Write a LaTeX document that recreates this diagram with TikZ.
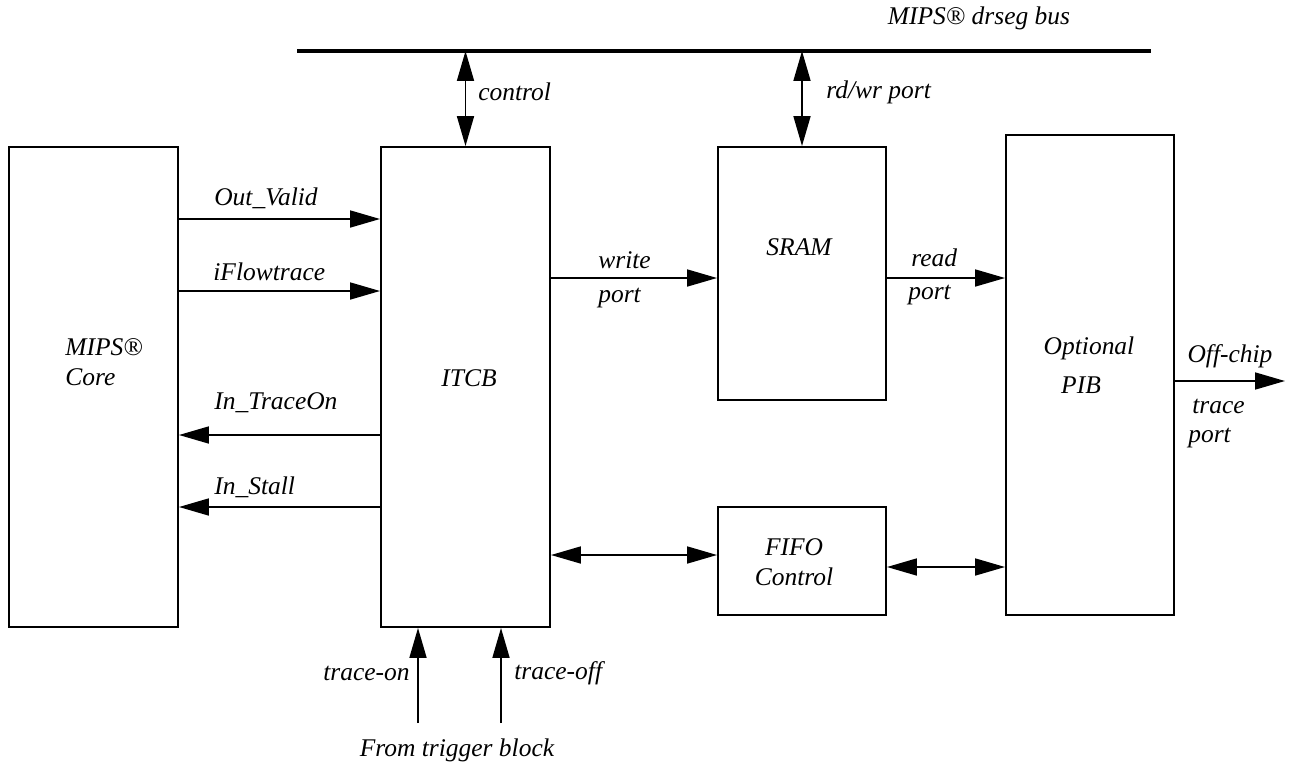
\documentclass[tikz,border=0pt]{standalone}
\usepackage{fontspec}
\setmainfont{Liberation Serif}
\usetikzlibrary{arrows.meta}
\begin{document}
\begin{tikzpicture}[x=0.02cm,y=-0.02cm,
  box/.style={draw, line width=1.1pt, inner sep=0pt},
  lbl/.style={inner sep=0pt, font=\fontsize{14.5}{17}\selectfont\itshape},
  conn/.style={line width=1.1pt, -{Triangle[length=17pt,width=9.6pt]}},
  bconn/.style={line width=1.1pt, {Triangle[length=17pt,width=9.6pt]}-{Triangle[length=17pt,width=9.6pt]}},
]
\useasboundingbox (0,0) rectangle (1292,768);

% boxes
\node[box, minimum width=3.38cm, minimum height=9.6cm] (core) at (93.5,387) {};
\node[box, minimum width=3.38cm, minimum height=9.6cm] (itcb) at (465.5,387) {};
\node[box, minimum width=3.36cm, minimum height=5.06cm] (sram) at (802,273.5) {};
\node[box, minimum width=3.36cm, minimum height=2.16cm] (fifo) at (802,561) {};
\node[box, minimum width=3.36cm, minimum height=9.6cm] (pib) at (1090,375) {};

% box texts
\node[lbl, anchor=west, align=left] (coret) at (65,362) {MIPS®\\Core};
\node[lbl] (itcbt) at (469,378) {ITCB};
\node[lbl] (sramt) at (799,247) {SRAM};
\node[lbl, align=center] (fifot) at (794,562) {FIFO\\Control};
\node[lbl] (pibt1) at (1089,348) {Optional};
\node[lbl] (pibt2) at (1081,385) {PIB};

% bus
\coordinate (busL) at (297,51);
\coordinate (busR) at (1151,51);
\draw[line width=2.3pt] (busL) -- (busR);
\node[lbl] (bust) at (979,18) {MIPS® drseg bus};

% vertical bus connectors
\draw[bconn] (itcb.north |- busL) -- (itcb.north);
\node[lbl, anchor=west] (ctrlt) at (478,92) {control};
\draw[bconn] (sram.north |- busL) -- (sram.north);
\node[lbl, anchor=west] (rdwrt) at (826,92) {rd/wr port};

% core <-> itcb
\coordinate (y1) at (0,219);
\coordinate (y2) at (0,291);
\coordinate (y3) at (0,435);
\coordinate (y4) at (0,507);
\draw[conn] (core.east |- y1) -- (itcb.west |- y1);
\draw[conn] (core.east |- y2) -- (itcb.west |- y2);
\draw[conn] (itcb.west |- y3) -- (core.east |- y3);
\draw[conn] (itcb.west |- y4) -- (core.east |- y4);
\node[lbl, anchor=west] (ovt) at (214,198) {Out\_Valid};
\node[lbl, anchor=west] (ift) at (213,272) {iFlowtrace};
\node[lbl, anchor=west] (itot) at (214,403) {In\_TraceOn};
\node[lbl, anchor=west] (ist) at (214,487) {In\_Stall};

% write / read
\coordinate (yw) at (0,278);
\draw[conn] (itcb.east |- yw) -- (sram.west |- yw);
\draw[conn] (sram.east |- yw) -- (pib.west |- yw);
\node[lbl, anchor=west] (wt1) at (598,260) {write};
\node[lbl, anchor=west] (wt2) at (598,298) {port};
\node[lbl, anchor=west] (rt1) at (911,258) {read};
\node[lbl, anchor=west] (rt2) at (908,295) {port};

% fifo
\coordinate (yf1) at (0,555);
\coordinate (yf2) at (0,567);
\draw[bconn] (itcb.east |- yf1) -- (fifo.west |- yf1);
\draw[bconn] (fifo.east |- yf2) -- (pib.west |- yf2);

% off-chip
\coordinate (offend) at (1285,381);
\draw[conn] (pib.east |- offend) -- (offend);
\node[lbl] (offt) at (1230,356) {Off-chip};
\node[lbl, anchor=base west] (trt) at (1192,413) {trace};
\node[lbl, anchor=base west] (prt) at (1188,442) {port};

% trigger inputs
\coordinate (ton) at (418,723);
\coordinate (toff) at (501,723);
\draw[conn] (ton) -- (itcb.south -| ton);
\draw[conn] (toff) -- (itcb.south -| toff);
\node[lbl, anchor=east] (tont) at (410,673) {trace-on};
\node[lbl, anchor=west] (tofft) at (514,673) {trace-off};
\node[lbl] (trigt) at (457,750) {From trigger block};
\end{tikzpicture}
\end{document}
